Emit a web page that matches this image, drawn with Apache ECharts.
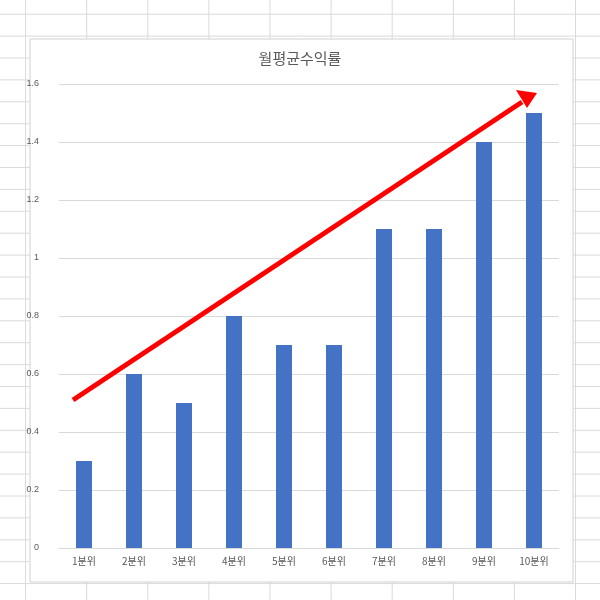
<!DOCTYPE html>
<html><head><meta charset="utf-8">
<script src="https://cdn.jsdelivr.net/npm/echarts@6/dist/echarts.min.js"></script>
<style>body{margin:0;background:#fff}#main{width:600px;height:600px}</style>
</head><body><div id="main"></div>
<script>
var categories=['1분위','2분위','3분위','4분위','5분위','6분위','7분위','8분위','9분위','10분위'];
var values=[0.3,0.6,0.5,0.8,0.7,0.7,1.1,1.1,1.4,1.5];

var chart=echarts.init(document.getElementById('main'));
// 엑셀 셀 격자 (배경 장식)
var grid=[];
for(var x=25.6;x<600;x+=61.1){
	grid.push({type:'line',z:-10,shape:{x1:x,y1:0,x2:x,y2:600},style:{stroke:'#dadada',lineWidth:1}});
}
for(var y=14.2;y<600;y+=21.9){
	grid.push({type:'line',z:-10,shape:{x1:0,y1:y,x2:600,y2:y},style:{stroke:'#dadada',lineWidth:1}});
}
grid.push({type:'rect',z:-5,shape:{x:30,y:39,width:543,height:543},style:{fill:'#fff',stroke:'#d0d0d0',lineWidth:1}});
// 빨간 화살표
grid.push({type:'line',z:10,shape:{x1:73,y1:400,x2:522,y2:102},style:{stroke:'#ff0000',lineWidth:5}});
grid.push({type:'polygon',z:10,shape:{points:[[537,93],[516,90],[527,108]]},style:{fill:'#ff0000'}});

chart.setOption({
	title:{text:'월평균수익률',left:'center',top:46,textStyle:{fontFamily:'Noto Sans CJK KR',fontSize:15,fontWeight:'normal',color:'#595959'}},
	grid:{left:59,right:41,top:84,bottom:52},
	xAxis:{type:'category',data:categories,
		axisLine:{lineStyle:{color:'#d9d9d9'}},axisTick:{show:false},
		axisLabel:{color:'#595959',fontSize:10,fontFamily:'Noto Sans CJK KR',margin:8}},
	yAxis:{type:'value',min:0,max:1.6,interval:0.2,
		axisLabel:{color:'#595959',fontSize:9,margin:20},
		splitLine:{lineStyle:{color:'#d9d9d9'}}},
	series:[{type:'bar',data:values,barWidth:16,itemStyle:{color:'#4472c4'}}],
	graphic:grid
});
</script></body></html>
